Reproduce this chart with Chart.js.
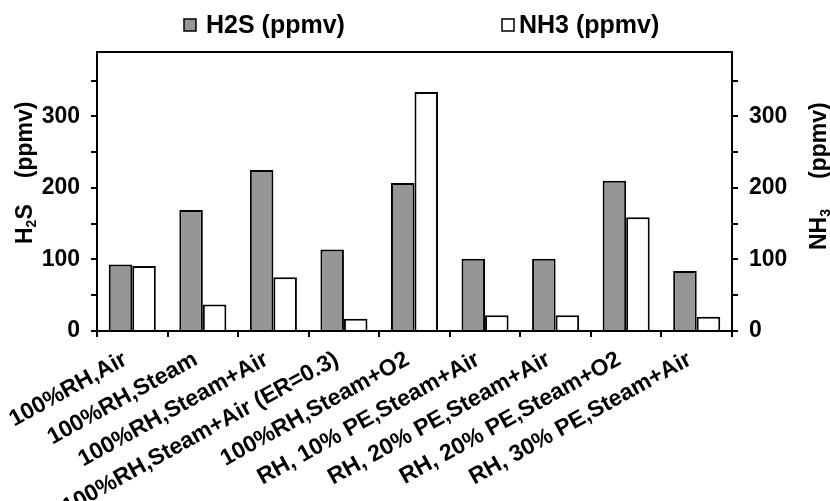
<!DOCTYPE html>
<html>
<head>
<meta charset="utf-8">
<script src="https://cdn.jsdelivr.net/npm/chart.js@4/dist/chart.umd.min.js"></script>
<style>
  html, body { margin: 0; padding: 0; background: #fff; }
</style>
</head>
<body>
<canvas id="chart_gas" width="830" height="501"></canvas>
<script>
const categories = [
  '100%RH,Air',
  '100%RH,Steam',
  '100%RH,Steam+Air',
  '100%RH,Steam+Air (ER=0.3)',
  '100%RH,Steam+O2',
  'RH, 10% PE,Steam+Air',
  'RH, 20% PE,Steam+Air',
  'RH, 20% PE,Steam+O2',
  'RH, 30% PE,Steam+Air'
];
const h2sValues = [93, 169, 225, 114, 207, 101, 101, 210, 84];
const nh3Values = [91, 37, 75, 17, 334, 22, 22, 159, 20];
const yTickLabels = [0, 100, 200, 300];
const yMax = 390;

const FONT = "'Liberation Sans', Arial, sans-serif";

// frame round the plot area
const framePlugin = {
  id: 'frame',
  afterDatasetsDraw(chart) {
    const a = chart.chartArea, ctx = chart.ctx;
    ctx.save();
    ctx.strokeStyle = '#000';
    ctx.lineWidth = 2;
    ctx.strokeRect(a.left, a.top, a.right - a.left, a.bottom - a.top);
    ctx.restore();
  }
};

// legend and axis titles (need subscripts, so drawn by hand)
function drawTitle(ctx, x, y, parts) {
  ctx.save();
  ctx.translate(x, y);
  ctx.rotate(-Math.PI / 2);
  ctx.fillStyle = '#000';
  ctx.textBaseline = 'alphabetic';
  let cx = 0;
  parts.forEach(p => {
    ctx.font = 'bold ' + p.size + 'px ' + FONT;
    ctx.fillText(p.t, cx, p.dy || 0);
    cx += ctx.measureText(p.t).width + (p.gap || 0);
  });
  ctx.restore();
}

const textPlugin = {
  id: 'texts',
  afterDraw(chart) {
    const ctx = chart.ctx;
    ctx.save();
    // legend
    ctx.lineWidth = 1.5;
    ctx.strokeStyle = '#000';
    ctx.fillStyle = '#969696';
    ctx.fillRect(184, 19, 12, 12);
    ctx.strokeRect(184, 19, 12, 12);
    ctx.fillStyle = '#fff';
    ctx.fillRect(502, 19, 12, 12);
    ctx.strokeRect(502, 19, 12, 12);
    ctx.fillStyle = '#000';
    ctx.font = 'bold 25px ' + FONT;
    ctx.textBaseline = 'middle';
    ctx.fillText(chart.data.datasets[0].label, 206, 26);
    ctx.fillText(chart.data.datasets[1].label, 519, 26);
    ctx.restore();

    drawTitle(ctx, 32, 244, [
      { t: 'H', size: 23 }, { t: '2', size: 14, dy: 4 }, { t: 'S', size: 23, gap: 26 },
      { t: '(ppmv)', size: 23 }
    ]);
    drawTitle(ctx, 826, 250, [
      { t: 'NH', size: 23 }, { t: '3', size: 14, dy: 4, gap: 30 },
      { t: '(ppmv)', size: 23 }
    ]);
  }
};

function yAxis(position, width) {
  return {
    type: 'linear',
    position: position,
    min: 0,
    max: yMax,
    ticks: {
      stepSize: 50,
      includeBounds: false,
      padding: 11,
      color: '#000',
      font: { family: FONT, size: 23, weight: 'bold' },
      callback: v => yTickLabels.includes(v) ? v : ''
    },
    grid: { drawOnChartArea: false, drawTicks: true, tickLength: 6, color: '#000', lineWidth: 2 },
    border: { display: true, color: '#000', width: 2 },
    afterFit: s => { s.width = width; }
  };
}

const ctxEl = document.getElementById('chart_gas');
const chart = new Chart(ctxEl, {
  type: 'bar',
  data: {
    labels: categories,
    datasets: [
      {
        label: 'H2S (ppmv)',
        data: h2sValues,
        yAxisID: 'y',
        backgroundColor: '#969696',
        borderColor: '#000',
        borderWidth: 2,
        categoryPercentage: 0.667,
        barPercentage: 1.0
      },
      {
        label: 'NH3 (ppmv)',
        data: nh3Values,
        yAxisID: 'y2',
        backgroundColor: '#fff',
        borderColor: '#000',
        borderWidth: 2,
        categoryPercentage: 0.667,
        barPercentage: 1.0
      }
    ]
  },
  options: {
    responsive: false,
    animation: false,
    devicePixelRatio: 1,
    layout: { padding: { top: 52, left: 0, right: 0, bottom: 0 } },
    plugins: {
      legend: { display: false },
      tooltip: { enabled: false },
      title: { display: false }
    },
    scales: {
      x: {
        offset: true,
        grid: { display: true, offset: true, drawOnChartArea: false, drawTicks: true, tickLength: 6, color: '#000', lineWidth: 2 },
        border: { display: true, color: '#000', width: 2 },
        ticks: {
          autoSkip: false,
          minRotation: 29,
          maxRotation: 29,
          padding: 9,
          labelOffset: -7,
          color: '#000',
          font: { family: FONT, size: 23, weight: 'bold' }
        },
        afterFit: s => { s.height = 170; }
      },
      y: yAxis('left', 97),
      y2: yAxis('right', 98)
    }
  },
  plugins: [framePlugin, textPlugin]
});
</script>
</body>
</html>
